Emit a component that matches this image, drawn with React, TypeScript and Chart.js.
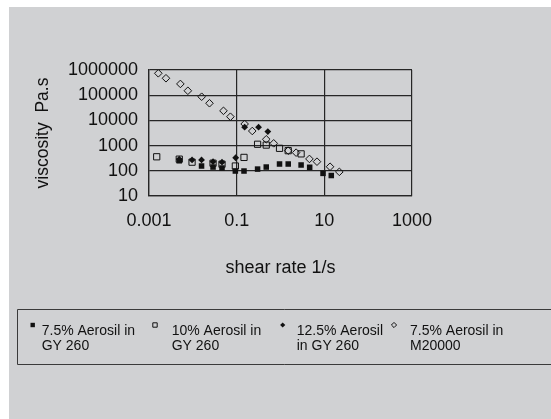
import React, { useEffect, useRef } from 'react';
import { Chart, registerables } from 'chart.js';

Chart.register(...registerables);

// ---- data ----
const s1ShearRate = [0.0049, 0.0158, 0.0289, 0.0463, 0.0933, 0.147, 0.30, 0.473, 0.95, 1.50, 2.95, 4.63, 9.33, 14.4];
const s1Viscosity = [250, 155, 141, 129, 98, 98, 117, 141, 186, 186, 170, 138, 79, 65];

const s2ShearRate = [0.0015, 0.0049, 0.0096, 0.0289, 0.0463, 0.0933, 0.147, 0.30, 0.473, 0.95, 1.50, 2.95];
const s2Viscosity = [360, 290, 220, 200, 183, 155, 340, 1130, 1050, 780, 630, 470];

const s3ShearRate = [0.0049, 0.0096, 0.0158, 0.0289, 0.0463, 0.095, 0.152, 0.316, 0.514];
const s3Viscosity = [290, 270, 270, 230, 220, 330, 5400, 5400, 3600];

const s4ShearRate = [0.00163, 0.00244, 0.0052, 0.0077, 0.0159, 0.024, 0.050, 0.072, 0.152, 0.227, 0.473, 0.70, 1.5, 2.27, 4.57, 6.8, 13.5, 22];
const s4Viscosity = [740000, 470000, 280000, 150000, 87000, 48000, 24000, 14000, 7200, 3800, 1780, 1230, 630, 525, 296, 230, 145, 91];

const seriesLabels = [
  ['7.5% Aerosil in', 'GY 260'],
  ['10% Aerosil in', 'GY 260'],
  ['12.5% Aerosil', 'in GY 260'],
  ['7.5% Aerosil in', 'M20000'],
];

const xTickValues = [0.001, 0.1, 10, 1000];
const yTickValues = [10, 100, 1000, 10000, 100000, 1000000];

const xTitle = 'shear rate 1/s';
const yTitle = 'viscosity  Pa.s';

// ---- style ----
const FONT = '"Liberation Sans", Arial, sans-serif';
const INK = '#111111';
const GRID = '#262626';
const BG = '#d0d1d3';

const legendMarkerX = [23.7, 146, 273.7, 385];
const legendTextX = [32.7, 162.7, 287.7, 401];
const legendKinds = ['fsq', 'osq', 'fdia', 'odia'];

function drawLegendMarker(ctx: CanvasRenderingContext2D, kind: string, x: number, y: number) {
  ctx.beginPath();
  if (kind === 'fsq' || kind === 'osq') {
    const s = 2.2;
    ctx.rect(x - s, y - s, 2 * s, 2 * s);
  } else {
    const r = 2.6;
    ctx.moveTo(x, y - r);
    ctx.lineTo(x + r, y);
    ctx.lineTo(x, y + r);
    ctx.lineTo(x - r, y);
    ctx.closePath();
  }
  ctx.lineWidth = 1;
  ctx.strokeStyle = INK;
  ctx.fillStyle = INK;
  if (kind === 'fsq' || kind === 'fdia') ctx.fill();
  else ctx.stroke();
}

const boxLegend = {
  id: 'boxLegend',
  afterDraw(chart: any) {
    const ctx: CanvasRenderingContext2D = chart.ctx;
    ctx.save();
    ctx.strokeStyle = '#3a3a3a';
    ctx.lineWidth = 1;
    ctx.beginPath();
    ctx.moveTo(2000, 302.5);
    ctx.lineTo(8.5, 302.5);
    ctx.lineTo(8.5, 357.5);
    ctx.lineTo(2000, 357.5);
    ctx.stroke();
    chart.data.datasets.forEach((_ds: any, i: number) => {
      drawLegendMarker(ctx, legendKinds[i], legendMarkerX[i], 318);
      ctx.fillStyle = INK;
      ctx.font = `14px ${FONT}`;
      ctx.textBaseline = 'middle';
      ctx.textAlign = 'left';
      seriesLabels[i].forEach((line, j) => ctx.fillText(line, legendTextX[i], 324 + j * 15));
    });
    ctx.restore();
  },
};

function pts(xs: number[], ys: number[]) {
  return xs.map((x, i) => ({ x, y: ys[i] }));
}

export default function App() {
  const ref = useRef<HTMLCanvasElement | null>(null);

  useEffect(() => {
    if (!ref.current) return;
    const chart = new Chart(ref.current, {
      type: 'scatter',
      data: {
        datasets: [
          {
            label: seriesLabels[0].join(' '),
            data: pts(s1ShearRate, s1Viscosity),
            pointStyle: 'rect',
            pointRadius: 3.9,
            backgroundColor: INK,
            borderColor: INK,
            borderWidth: 0,
          },
          {
            label: seriesLabels[1].join(' '),
            data: pts(s2ShearRate, s2Viscosity),
            pointStyle: 'rect',
            pointRadius: 4.4,
            backgroundColor: 'rgba(0,0,0,0)',
            borderColor: INK,
            borderWidth: 1,
          },
          {
            label: seriesLabels[2].join(' '),
            data: pts(s3ShearRate, s3Viscosity),
            pointStyle: 'rectRot',
            pointRadius: 3.4,
            backgroundColor: INK,
            borderColor: INK,
            borderWidth: 0,
          },
          {
            label: seriesLabels[3].join(' '),
            data: pts(s4ShearRate, s4Viscosity),
            pointStyle: 'rectRot',
            pointRadius: 3.8,
            backgroundColor: 'rgba(0,0,0,0)',
            borderColor: INK,
            borderWidth: 1,
          },
        ],
      },
      options: {
        animation: false,
        responsive: false,
        events: [],
        layout: { padding: { left: 0, top: 63, right: 139, bottom: 140 } },
        plugins: {
          legend: { display: false },
          tooltip: { enabled: false },
        },
        scales: {
          x: {
            type: 'logarithmic',
            min: 0.001,
            max: 1000,
            afterBuildTicks: (scale: any) => {
              scale.ticks = xTickValues.map((v) => ({ value: v }));
            },
            afterFit: (scale: any) => {
              scale.height = 83;
            },
            ticks: {
              autoSkip: false,
              maxRotation: 0,
              padding: 14,
              color: INK,
              font: { family: FONT, size: 18 },
              callback: (v: any) => String(v),
            },
            grid: { color: GRID, lineWidth: 1.2, drawTicks: false },
            border: { display: true, color: GRID, width: 1.3 },
            title: {
              display: true,
              text: xTitle,
              color: INK,
              font: { family: FONT, size: 18 },
              padding: { top: 0, bottom: 0 },
            },
          },
          y: {
            type: 'logarithmic',
            min: 10,
            max: 1000000,
            afterBuildTicks: (scale: any) => {
              scale.ticks = yTickValues.map((v) => ({ value: v }));
            },
            afterFit: (scale: any) => {
              scale.width = 140;
            },
            ticks: {
              autoSkip: false,
              padding: 11,
              color: INK,
              font: { family: FONT, size: 18 },
              callback: (v: any) => String(v),
            },
            grid: { color: GRID, lineWidth: 1.2, drawTicks: false },
            border: { display: true, color: GRID, width: 1.3 },
            title: {
              display: true,
              text: yTitle,
              color: INK,
              font: { family: FONT, size: 17.5 },
              padding: { top: 24, bottom: 0 },
            },
          },
        },
      },
      plugins: [boxLegend],
    } as any);
    return () => chart.destroy();
  }, []);

  return (
    <div
      style={{
        position: 'absolute',
        left: 9,
        top: 7,
        width: 542,
        height: 412,
        background: BG,
        overflow: 'hidden',
      }}
    >
      <canvas ref={ref} width={542} height={412} style={{ display: 'block', width: 542, height: 412 }} />
    </div>
  );
}
